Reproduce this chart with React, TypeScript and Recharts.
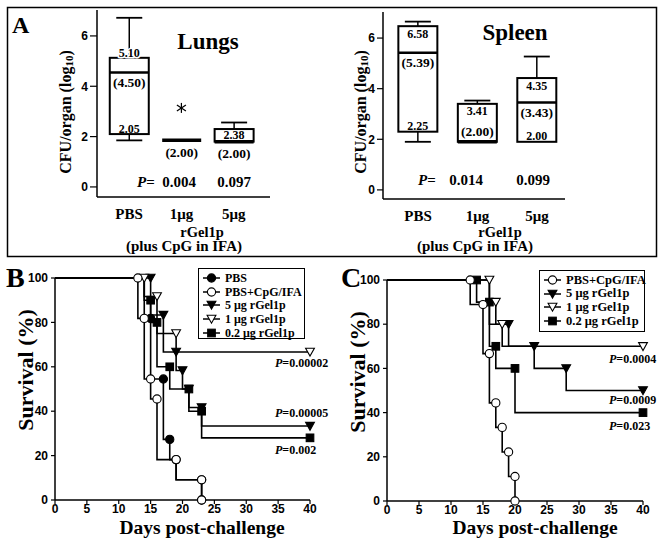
import React from 'react';
import { ComposedChart, Bar, Scatter, XAxis, YAxis, LineChart, Line, Legend } from 'recharts';

const serif = "'Liberation Serif', 'Times New Roman', serif";
const sans = "'Liberation Sans', Arial, sans-serif";

// ---- Panel A: CFU/organ (log10), box plots ----
const groups = ['PBS', '1μg', '5μg'];
const groupPos = [1, 2, 3];

const lungLow = [1.85, 1.85, 1.8];
const lungQ1 = [2.1, 1.85, 1.8];
const lungMedian = [4.55, 1.85, 1.8];
const lungQ3 = [5.13, 1.85, 2.3];
const lungHigh = [6.72, 1.85, 2.56];
const lungOutlier = [null, 3.14, null];
const lungQ3Text = ['5.10', '', '2.38'];
const lungMedianText = ['(4.50)', '(2.00)', '(2.00)'];
const lungQ1Text = ['2.05', '', ''];
const lungP = ['', '0.004', '0.097'];

const spleenLow = [1.9, 1.9, 1.9];
const spleenQ1 = [2.3, 1.9, 1.9];
const spleenMedian = [5.42, 1.9, 3.45];
const spleenQ3 = [6.47, 3.4, 4.42];
const spleenHigh = [6.65, 3.53, 5.27];
const spleenOutlier = [null, null, null];
const spleenQ3Text = ['6.58', '3.41', '4.35'];
const spleenMedianText = ['(5.39)', '(2.00)', '(3.43)'];
const spleenQ1Text = ['2.25', '', '2.00'];
const spleenP = ['', '0.014', '0.099'];

const cfuTicks = [0, 2, 4, 6];

// ---- Panels B and C: survival (%) vs days post-challenge ----
const bPbsDays = [0, 14, 15, 17, 18, 19, 23, 23];
const bPbsSurv = [100, 100, 81.8, 54.5, 27.3, 18.2, 9.1, 0];
const bCpgDays = [0, 13, 14, 15, 16, 19, 23, 23];
const bCpgSurv = [100, 100, 81.8, 54.5, 45.5, 18.2, 9.1, 0];
const b5Days = [0, 15, 17, 19, 20, 21, 23, 40];
const b5Surv = [100, 100, 83.3, 66.7, 58.3, 50, 41.7, 33.3];
const b1Days = [0, 14, 16, 19, 40];
const b1Surv = [100, 100, 91.7, 75, 66.7];
const b02Days = [0, 14, 15, 16, 18, 21, 23, 40];
const b02Surv = [100, 100, 90, 80, 60, 50, 40, 28];
const bPValues = ['P=0.00002', 'P=0.00005', 'P=0.002'];

const cCpgDays = [0, 13, 15, 16, 17, 18, 19, 20, 20];
const cCpgSurv = [100, 100, 88.9, 66.7, 44.4, 33.3, 22.2, 11.1, 0];
const c5Days = [0, 16, 19, 23, 28, 40];
const c5Surv = [100, 100, 80, 70, 60, 50];
const c1Days = [0, 16, 17, 18, 40];
const c1Surv = [100, 100, 90, 80, 70];
const c02Days = [0, 14, 16, 17, 20, 40];
const c02Surv = [100, 100, 90, 70, 60, 40];
const cPValues = ['P=0.0004', 'P=0.0009', 'P=0.023'];

const dayTicks = [0, 5, 10, 15, 20, 25, 30, 35, 40];
const survTicks = [0, 20, 40, 60, 80, 100];

const zip = (days: number[], surv: number[]) => days.map((d, i) => ({ d, s: surv[i] }));

const seriesB = [
  { name: 'PBS', rows: zip(bPbsDays, bPbsSurv), kind: 'circle', filled: true, firstMarker: 2, z: 0 },
  { name: 'PBS+CpG/IFA', rows: zip(bCpgDays, bCpgSurv), kind: 'circle', filled: false, firstMarker: 1, z: 4 },
  { name: '5 μg rGel1p', rows: zip(b5Days, b5Surv), kind: 'triangle', filled: true, firstMarker: 1, z: 2 },
  { name: '1 μg rGel1p', rows: zip(b1Days, b1Surv), kind: 'triangle', filled: false, firstMarker: 1, z: 3 },
  { name: '0.2 μg rGel1p', rows: zip(b02Days, b02Surv), kind: 'square', filled: true, firstMarker: 2, z: 1 },
];

const seriesC = [
  { name: 'PBS+CpG/IFA', rows: zip(cCpgDays, cCpgSurv), kind: 'circle', filled: false, firstMarker: 1, z: 3 },
  { name: '5 μg rGel1p', rows: zip(c5Days, c5Surv), kind: 'triangle', filled: true, firstMarker: 2, z: 1 },
  { name: '1 μg rGel1p', rows: zip(c1Days, c1Surv), kind: 'triangle', filled: false, firstMarker: 1, z: 2 },
  { name: '0.2 μg rGel1p', rows: zip(c02Days, c02Surv), kind: 'square', filled: true, firstMarker: 1, z: 0 },
];

function buildRows(low, q1, med, q3, high, outlier, q3t, medt, q1t) {
  return groups.map((g, i) => ({
    pos: groupPos[i],
    group: g,
    range: [low[i], high[i]],
    low: low[i],
    q1: q1[i],
    med: med[i],
    q3: q3[i],
    high: high[i],
    outlier: outlier[i],
    q3Text: q3t[i],
    medText: medt[i],
    q1Text: q1t[i],
  }));
}

const lungRows = buildRows(lungLow, lungQ1, lungMedian, lungQ3, lungHigh, lungOutlier, lungQ3Text, lungMedianText, lungQ1Text);
const spleenRows = buildRows(spleenLow, spleenQ1, spleenMedian, spleenQ3, spleenHigh, spleenOutlier, spleenQ3Text, spleenMedianText, spleenQ1Text);

function BoxShape(props: any) {
  const { x, y, width, height, payload, q3Above, medianInside } = props;
  if (!payload) return <g />;
  const { low, q1, med, q3, high } = payload;
  const top = Math.min(y, y + height);
  const h = Math.abs(height);
  const span = high - low;
  const yOf = (v: number) => (span > 0 ? top + (h * (high - v)) / span : top);
  const cx = x + width / 2;
  const cap = 26;
  const yQ3 = yOf(q3);
  const yQ1 = yOf(q1);
  const yMed = yOf(med);
  const boxH = yQ1 - yQ3;
  const small = { fontFamily: serif, fontWeight: 'bold', fontSize: 12, textAnchor: 'middle', dominantBaseline: 'central' } as any;
  const big = { ...small, fontSize: 13.5 };

  let q3LabelY = yQ3 + 7.5;
  if (boxH < 20) q3LabelY = (yQ3 + yQ1) / 2;
  else if (q3Above) q3LabelY = yQ3 - 5;
  let medLabelY = yMed + 10;
  if (med <= q1) medLabelY = medianInside ? yMed - 10 : yMed + 12;

  return (
    <g>
      {high > q3 && <line x1={cx} x2={cx} y1={yOf(high)} y2={yQ3} stroke="#000" strokeWidth={1.5} />}
      {high > q3 && <line x1={cx - cap / 2} x2={cx + cap / 2} y1={yOf(high)} y2={yOf(high)} stroke="#000" strokeWidth={1.8} />}
      {low < q1 && <line x1={cx} x2={cx} y1={yQ1} y2={yOf(low)} stroke="#000" strokeWidth={1.5} />}
      {low < q1 && <line x1={cx - cap / 2} x2={cx + cap / 2} y1={yOf(low)} y2={yOf(low)} stroke="#000" strokeWidth={1.8} />}
      {boxH > 0 && <rect x={x} y={yQ3} width={width} height={boxH} fill="#fff" stroke="#000" strokeWidth={2} />}
      <line x1={x} x2={x + width} y1={yMed} y2={yMed} stroke="#000" strokeWidth={boxH > 0 && med > q1 ? 2.5 : 3.5} />
      {payload.q3Text && (
        <text x={cx} y={q3LabelY} {...small} stroke={q3Above && boxH >= 20 ? '#fff' : 'none'} strokeWidth={3} paintOrder="stroke">
          {payload.q3Text}
        </text>
      )}
      {payload.medText && (
        <text x={cx} y={medLabelY} {...big}>
          {payload.medText}
        </text>
      )}
      {payload.q1Text && (
        <text x={cx} y={yQ1 - 5.5} {...small}>
          {payload.q1Text}
        </text>
      )}
    </g>
  );
}

function Asterisk(props: any) {
  const { cx, cy } = props;
  if (cx == null || cy == null) return <g />;
  return (
    <g stroke="#000" strokeWidth={1.2}>
      <line x1={cx} x2={cx} y1={cy - 5} y2={cy + 5} />
      <line x1={cx - 4.5} x2={cx + 4.5} y1={cy - 3} y2={cy + 3} />
      <line x1={cx - 4.5} x2={cx + 4.5} y1={cy + 3} y2={cy - 3} />
    </g>
  );
}

function GroupTick(props: any) {
  const { x, y, payload } = props;
  return (
    <text x={x} y={y + 22} textAnchor="middle" fontFamily={serif} fontWeight="bold" fontSize={15} fill="#000">
      {groups[groupPos.indexOf(payload.value)]}
    </text>
  );
}

function BoxPanel({ rows, left, width, margin, xDomain, yDomain, tickSize, q3Above, medianInside }: any) {
  const outliers = rows.filter((r) => r.outlier != null);
  return (
    <div style={{ position: 'absolute', left, top: 0 }}>
      <ComposedChart width={width} height={258} data={rows} margin={margin}>
        <XAxis
          type="number"
          dataKey="pos"
          domain={xDomain}
          ticks={groupPos}
          height={30}
          tickSize={0}
          tickMargin={0}
          tickLine={false}
          tick={<GroupTick />}
          axisLine={{ stroke: '#000', strokeWidth: 1.5 }}
          allowDataOverflow
        />
        <XAxis xAxisId="top" orientation="top" type="number" dataKey="pos" domain={xDomain} height={0} tick={false} tickLine={false} axisLine={{ stroke: '#000', strokeWidth: 1.5 }} allowDataOverflow />
        <YAxis
          type="number"
          domain={yDomain}
          ticks={cfuTicks}
          width={40}
          tickSize={tickSize}
          tickMargin={2}
          tickLine={{ stroke: '#000', strokeWidth: 1.2 }}
          tick={{ fill: '#000', fontSize: 12, fontWeight: 'bold', fontFamily: sans }}
          axisLine={{ stroke: '#000', strokeWidth: 1.5 }}
          allowDataOverflow
        />
        <YAxis yAxisId="right" orientation="right" type="number" domain={yDomain} width={0} tick={false} tickLine={false} axisLine={{ stroke: '#000', strokeWidth: 1.5 }} allowDataOverflow />
        <Bar
          dataKey="range"
          barSize={39}
          isAnimationActive={false}
          shape={(p: any) => <BoxShape {...p} q3Above={q3Above} medianInside={medianInside} />}
        />
        {outliers.length > 0 && <Scatter data={outliers} dataKey="outlier" shape={<Asterisk />} isAnimationActive={false} />}
      </ComposedChart>
    </div>
  );
}

function Marker({ kind, filled, cx, cy }: any) {
  const fill = filled ? '#000' : '#fff';
  if (kind === 'circle') return <circle cx={cx} cy={cy} r={4.1} fill={fill} stroke="#000" strokeWidth={1.1} />;
  if (kind === 'square') return <rect x={cx - 3.8} y={cy - 3.8} width={7.6} height={7.6} fill={fill} stroke="#000" strokeWidth={1.1} />;
  return <path d={`M${cx - 4.4},${cy - 3.7} L${cx + 4.4},${cy - 3.7} L${cx},${cy + 4.2} Z`} fill={fill} stroke="#000" strokeWidth={1.1} />;
}

function LegendBox({ items, width, height, fontSize }: any) {
  return (
    <div
      style={{
        width,
        height,
        boxSizing: 'border-box',
        border: '1.5px solid #000',
        background: '#fff',
        padding: '2px 0 0 4px',
      }}
    >
      {items.map((it) => (
        <div key={it.name} style={{ display: 'flex', alignItems: 'center', height: 13.8 }}>
          <svg width={17} height={12} style={{ flex: 'none' }}>
            <line x1={0} x2={17} y1={6} y2={6} stroke="#000" strokeWidth={1.5} />
            <Marker kind={it.kind} filled={it.filled} cx={8.5} cy={6} />
          </svg>
          <span style={{ marginLeft: 5, fontFamily: serif, fontWeight: 'bold', fontSize, whiteSpace: 'nowrap', lineHeight: 1 }}>{it.name}</span>
        </div>
      ))}
    </div>
  );
}

function SurvivalPanel({ series, left, margin, legendPos }: any) {
  const drawn = [...series].sort((a, b) => a.z - b.z);
  return (
    <div style={{ position: 'absolute', left, top: 258 }}>
      <LineChart width={335} height={286} margin={margin}>
        <XAxis
          type="number"
          dataKey="d"
          domain={[0, 40]}
          ticks={dayTicks}
          height={20}
          tickSize={4}
          tickMargin={0}
          tickLine={{ stroke: '#000', strokeWidth: 1.2 }}
          tick={{ fill: '#000', fontSize: 12, fontWeight: 'bold', fontFamily: sans }}
          axisLine={{ stroke: '#000', strokeWidth: 1.5 }}
        />
        <YAxis
          type="number"
          domain={[0, 100]}
          ticks={survTicks}
          width={40}
          tickSize={4}
          tickMargin={3}
          tickLine={{ stroke: '#000', strokeWidth: 1.2 }}
          tick={{ fill: '#000', fontSize: 12, fontWeight: 'bold', fontFamily: sans }}
          axisLine={{ stroke: '#000', strokeWidth: 1.5 }}
        />
        {drawn.map((s) => (
          <Line
            key={s.name}
            name={s.name}
            data={s.rows}
            dataKey="s"
            type="stepBefore"
            stroke="#000"
            strokeWidth={1.6}
            isAnimationActive={false}
            activeDot={false}
            dot={(p: any) =>
              p.index < s.firstMarker ? <g key={`${s.name}-${p.index}`} /> : <g key={`${s.name}-${p.index}`}><Marker kind={s.kind} filled={s.filled} cx={p.cx} cy={p.cy} /></g>
            }
          />
        ))}
        <Legend
          layout="horizontal"
          verticalAlign="middle"
          align="center"
          wrapperStyle={{ left: legendPos.left, top: legendPos.top, width: legendPos.width, height: legendPos.height }}
          content={() => <LegendBox items={series} width={legendPos.width} height={legendPos.height} fontSize={legendPos.fontSize} />}
        />
      </LineChart>
    </div>
  );
}

function Overlay() {
  const t = { fontFamily: serif, fontWeight: 'bold', fill: '#000' } as any;
  return (
    <svg width={665} height={544} style={{ position: 'absolute', left: 0, top: 0, pointerEvents: 'none' }}>
      <rect x={7.5} y={7.5} width={649} height={249} fill="none" stroke="#000" strokeWidth={1.5} />
      <text x={12} y={33} {...t} fontSize={24}>A</text>
      <text x={208} y={49} {...t} fontSize={23} textAnchor="middle">Lungs</text>
      <text x={515} y={40} {...t} fontSize={23} textAnchor="middle">Spleen</text>

      <text x={65} y={112} {...t} fontSize={16} textAnchor="middle" dominantBaseline="central" transform="rotate(-90 65 112)">
        CFU/organ (log<tspan dy={4} fontSize={11}>10</tspan><tspan dy={-4}>)</tspan>
      </text>
      <text x={360} y={112} {...t} fontSize={16} textAnchor="middle" dominantBaseline="central" transform="rotate(-90 360 112)">
        CFU/organ (log<tspan dy={4} fontSize={11}>10</tspan><tspan dy={-4}>)</tspan>
      </text>

      <text x={137} y={187} {...t} fontSize={15}><tspan fontStyle="italic">P</tspan>=</text>
      <text x={179} y={187} {...t} fontSize={15} textAnchor="middle">{lungP[1]}</text>
      <text x={234} y={187} {...t} fontSize={15} textAnchor="middle">{lungP[2]}</text>
      <text x={418} y={185} {...t} fontSize={15}><tspan fontStyle="italic">P</tspan>=</text>
      <text x={466} y={185} {...t} fontSize={15} textAnchor="middle">{spleenP[1]}</text>
      <text x={533} y={185} {...t} fontSize={15} textAnchor="middle">{spleenP[2]}</text>

      <text x={202} y={236.5} {...t} fontSize={14.5} textAnchor="middle">rGel1p</text>
      <text x={184} y={251} {...t} fontSize={15} textAnchor="middle">(plus CpG in IFA)</text>
      <text x={500} y={236.5} {...t} fontSize={14.5} textAnchor="middle">rGel1p</text>
      <text x={475} y={251} {...t} fontSize={15} textAnchor="middle">(plus CpG in IFA)</text>

      <text x={6} y={287} {...t} fontSize={28}>B</text>
      <text x={341} y={287} {...t} fontSize={28}>C</text>

      <text x={25} y={370} {...t} fontSize={22} textAnchor="middle" dominantBaseline="central" transform="rotate(-90 25 370)">Survival (%)</text>
      <text x={357} y={372} {...t} fontSize={22} textAnchor="middle" dominantBaseline="central" transform="rotate(-90 357 372)">Survival (%)</text>
      <text x={202} y={534} {...t} fontSize={19.5} textAnchor="middle">Days post-challenge</text>
      <text x={535} y={534} {...t} fontSize={19.5} textAnchor="middle">Days post-challenge</text>

      {bPValues.map((p, i) => (
        <text key={p} x={275} y={[367, 417, 454][i]} {...t} fontSize={12}>
          <tspan fontStyle="italic">P</tspan>{p.slice(1)}
        </text>
      ))}
      {cPValues.map((p, i) => (
        <text key={p} x={609} y={[363, 404, 430][i]} {...t} fontSize={12}>
          <tspan fontStyle="italic">P</tspan>{p.slice(1)}
        </text>
      ))}
    </svg>
  );
}

export default function App() {
  return (
    <div style={{ position: 'absolute', left: 0, top: 0, width: 665, height: 544, background: '#fff', overflow: 'hidden' }}>
      <BoxPanel
        rows={lungRows}
        left={0}
        width={330}
        margin={{ top: 10, right: 60, bottom: 31, left: 57 }}
        xDomain={[0.39, 3.69]}
        yDomain={[-0.4, 7.03]}
        tickSize={7}
        q3Above
        medianInside={false}
      />
      <BoxPanel
        rows={spleenRows}
        left={330}
        width={335}
        margin={{ top: 12, right: 100, bottom: 29, left: 13 }}
        xDomain={[0.41, 3.47]}
        yDomain={[-0.36, 7.03]}
        tickSize={6}
        q3Above={false}
        medianInside
      />
      <SurvivalPanel
        series={seriesB}
        left={0}
        margin={{ top: 20, right: 25, bottom: 24, left: 15 }}
        legendPos={{ left: 198, top: 10, width: 107, height: 71, fontSize: 12 }}
      />
      <SurvivalPanel
        series={seriesC}
        left={330}
        margin={{ top: 22, right: 22, bottom: 23, left: 17 }}
        legendPos={{ left: 209, top: 12, width: 106, height: 62, fontSize: 12.5 }}
      />
      <Overlay />
    </div>
  );
}
